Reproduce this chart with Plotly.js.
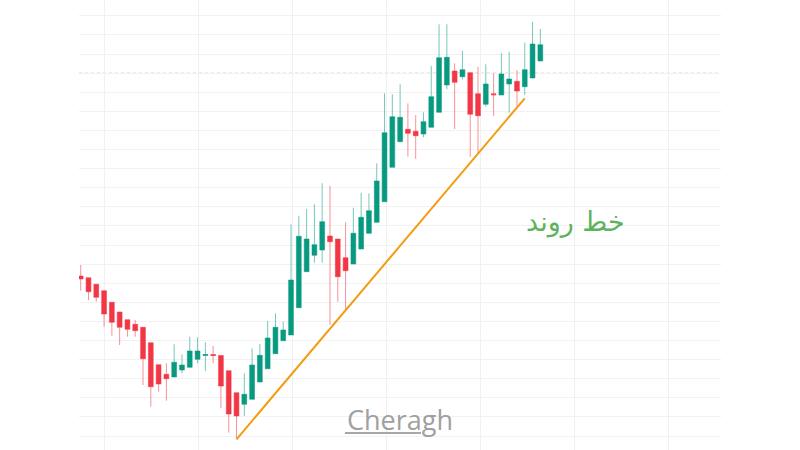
<!DOCTYPE html>
<html>
<head>
<meta charset="utf-8">
<script src="https://cdn.plot.ly/plotly-3.0.1.min.js"></script>
<style>
html,body{margin:0;padding:0;background:#fff;}
#chart{width:800px;height:450px;}
</style>
</head>
<body>
<div id="chart"></div>
<script>
// Candle index (1..60)
const candleIdx = Array.from({length: 60}, (_, i) => i + 1);
const openVals  = [174,172.3,165.7,159.3,147.7,138,130.3,125.7,122.7,107.3,85.3,75.7,73,80,82.7,90.7,94.5,95.5,94.5,79.3,57.3,45.7,50.7,68,81.3,96.3,109.3,115,142.3,178.3,194.7,200,214,211,192.3,186,201,216.7,227.7,248.3,282.7,308.3,320.7,318.7,316,322.7,337.7,365,379,373.3,377.3,356.3,345.7,356.2,355,366,368.7,363.3,372,389];
const highVals  = [185,172.3,165.7,159.3,147.7,138,130.3,130,122.7,107.3,85.3,86.7,105.7,95.7,113.3,112.7,107.7,104,94.5,79.3,57.3,76.7,101.7,106,129,136.7,128.3,225.7,234.3,241,245.7,266.7,264.3,211,227.7,242.3,257.3,256.7,286.7,356.7,355.7,365.7,346.7,335,337.7,384,425.7,425.7,386.7,399.3,377.3,383.3,385.7,376.7,396.7,398.3,380,407.3,428.3,421];
const lowVals   = [159.3,150,148.3,123.3,114.3,105,113.3,113.3,65,43.3,58.3,49.3,73,76.7,82.7,86.7,79,86.7,41.7,17.3,10.7,34,50.7,68,81.3,96.3,109.3,115,142.3,178.3,187.3,187.3,125,148.3,140,186,201,216.7,227.7,248.3,282.7,308.3,293.3,291,312.7,322.7,337.7,360.7,321,370.7,293.3,296.7,343.3,334,355,337.3,343.3,355,372,389];
const closeVals = [171,158.3,152.7,136,127.7,122.7,120.7,119.3,91.3,63.3,66,71.3,87.7,85,99,99,95.5,94.5,64,36,34,55.7,85,94.7,112,122.7,120,170,213.7,211,205.3,228.3,208.3,173.3,179.3,216.7,232.7,239.3,269,317.3,333.3,332.7,316.7,314.3,328.3,353.3,392.3,392.7,367.7,380.3,335.7,334.3,366,355.2,376,371,359,380.3,406,405.3];

// Trend line (candle index, price)
const trendX = [21, 58];
const trendY = [10.7, 351.7];
// Dotted price level
const priceLevel = 376.7;

const bodyHigh = openVals.map((o, i) => Math.max(o, closeVals[i]));
const bodyLow  = openVals.map((o, i) => Math.min(o, closeVals[i]));

const GREEN = '#089981', RED = '#F23645';

const wicks = {
  type: 'candlestick', x: candleIdx,
  open: openVals, high: highVals, low: lowVals, close: closeVals,
  increasing: {line: {color: 'rgba(8,153,129,0.55)', width: 1}, fillcolor: 'rgba(0,0,0,0)'},
  decreasing: {line: {color: 'rgba(242,54,69,0.55)', width: 1}, fillcolor: 'rgba(0,0,0,0)'},
  whiskerwidth: 0, hoverinfo: 'skip', showlegend: false
};
const bodies = {
  type: 'candlestick', x: candleIdx,
  open: openVals, high: bodyHigh, low: bodyLow, close: closeVals,
  increasing: {line: {color: GREEN, width: 0}, fillcolor: GREEN},
  decreasing: {line: {color: RED, width: 0}, fillcolor: RED},
  whiskerwidth: 0, hoverinfo: 'skip', showlegend: false
};
const trend = {
  type: 'scatter', mode: 'lines', x: trendX, y: trendY,
  line: {color: '#F39C12', width: 2}, hoverinfo: 'skip', showlegend: false
};

const layout = {
  width: 800, height: 450,
  margin: {l: 79, r: 79, t: 0, b: 0},
  paper_bgcolor: '#ffffff', plot_bgcolor: '#ffffff',
  showlegend: false,
  boxgap: 0.12,
  xaxis: {
    range: [0.782, 83.19], showticklabels: false, ticks: '',
    showgrid: true, gridcolor: '#f0f0f0', gridwidth: 1,
    tickmode: 'linear', tick0: 4.0, dtick: 12.07,
    zeroline: false, showline: false,
    rangeslider: {visible: false}, fixedrange: true
  },
  yaxis: {
    range: [0, 450], showticklabels: false, ticks: '',
    showgrid: true, gridcolor: '#f2f2f2', gridwidth: 1,
    tickmode: 'linear', tick0: 14, dtick: 19.1,
    zeroline: false, showline: false, fixedrange: true
  },
  shapes: [
    {type: 'line', xref: 'paper', yref: 'y', x0: 0, x1: 1, y0: priceLevel, y1: priceLevel,
     line: {color: 'rgba(242,54,69,0.7)', width: 1, dash: 'dot'}, layer: 'below'},
    {type: 'line', xref: 'paper', yref: 'paper', x0: 0.4143, x1: 0.5327, y0: 0.038, y1: 0.038,
     line: {color: '#a8a8a8', width: 2}}
  ],
  annotations: [
    {text: 'خط روند', xref: 'paper', yref: 'paper', x: 0.7726, y: 0.5067,
     xanchor: 'center', yanchor: 'middle', showarrow: false,
     font: {family: 'DejaVu Sans, Noto Sans', size: 27, color: '#5DB35D'}},
    {text: 'Cheragh', xref: 'paper', yref: 'paper', x: 0.5, y: 0.068,
     xanchor: 'center', yanchor: 'middle', showarrow: false,
     font: {family: 'Open Sans, Lato', size: 27, color: '#a0a0a0'}}
  ]
};

Plotly.newPlot('chart', [wicks, bodies, trend], layout, {staticPlot: true, displayModeBar: false});
</script>
</body>
</html>
